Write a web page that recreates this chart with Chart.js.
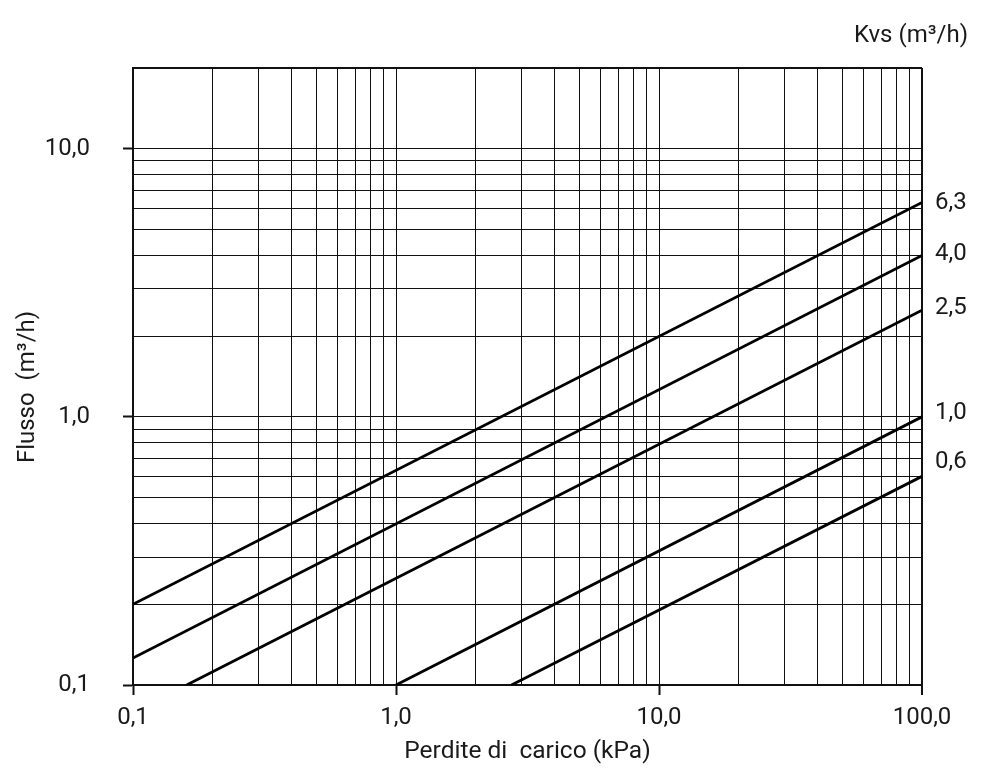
<!DOCTYPE html>
<html>
<head>
<meta charset="utf-8">
<script src="https://cdn.jsdelivr.net/npm/chart.js@4.4.1/dist/chart.umd.min.js"></script>
<style>
  html, body { margin: 0; padding: 0; background: #fff; }
  #wrap { width: 1000px; height: 777px; }
</style>
</head>
<body>
<div id="wrap"><canvas id="c" width="1000" height="777"></canvas></div>
<script>
// ---- Data ----
const kvsValues   = [6.3, 4.0, 2.5, 1.0, 0.6];
const kvsLabels   = ['6,3', '4,0', '2,5', '1,0', '0,6'];
const startDp     = [0.1, 0.1, 0.16, 1.0, 2.75];     // kPa at left end of each line
const startFlow   = [0.2, 0.126, 0.1, 0.1, 0.1];     // m³/h at left end
const endDp       = [100, 100, 100, 100, 100];       // kPa at right end
const endFlow     = [6.3, 4.0, 2.5, 1.0, 0.6];       // m³/h at right end

const xGridValues = [0.1,0.2,0.3,0.4,0.5,0.6,0.7,0.8,0.9,1,2,3,4,5,6,7,8,9,10,20,30,40,50,60,70,80,90,100];
const yGridValues = [0.1,0.2,0.3,0.4,0.5,0.6,0.7,0.8,0.9,1,2,3,4,5,6,7,8,9,10,20];
const xLabelValues = [0.1, 1, 10, 100];
const xLabelTexts  = ['0,1', '1,0', '10,0', '100,0'];
const yLabelValues = [0.1, 1, 10];
const yLabelTexts  = ['0,1', '1,0', '10,0'];

const xTitle = 'Perdite di  carico (kPa)';
const yTitle = 'Flusso  (m³/h)';
const kvsTitle = 'Kvs (m³/h)';

// ---- Helpers ----
const FONT = 'Roboto, "Liberation Sans", sans-serif';
const TEXT = '#1a1a1a';
function findIdx(arr, v) { return arr.findIndex(a => Math.abs(a - v) < 1e-9 * Math.max(1, a)); }

const datasets = kvsValues.map((k, i) => ({
  label: kvsLabels[i],
  data: [{x: startDp[i], y: startFlow[i]}, {x: endDp[i], y: endFlow[i]}],
  showLine: true,
  borderColor: '#000',
  borderWidth: 2.8,
  pointRadius: 0,
  fill: false,
  tension: 0
}));

const sideLabels = {
  id: 'sideLabels',
  afterDraw(chart, args, opts) {
    const {ctx, chartArea, scales} = chart;
    ctx.save();
    ctx.fillStyle = TEXT;
    ctx.font = '24px ' + FONT;
    ctx.textAlign = 'left';
    ctx.textBaseline = 'middle';
    kvsValues.forEach((k, i) => {
      const y = scales.y.getPixelForValue(endFlow[i]) + opts.nudge[i];
      ctx.fillText(kvsLabels[i], chartArea.right + 13, y);
    });
    ctx.textAlign = 'right';
    ctx.fillText(kvsTitle, 968, 36);
    // y axis title
    ctx.save();
    ctx.translate(28, 387);
    ctx.rotate(-Math.PI / 2);
    ctx.textAlign = 'center';
    ctx.textBaseline = 'middle';
    ctx.fillText(yTitle, 0, 0);
    ctx.restore();
    ctx.restore();
  }
};

new Chart(document.getElementById('c'), {
  type: 'scatter',
  data: { datasets },
  plugins: [sideLabels],
  options: {
    responsive: false,
    animation: false,
    devicePixelRatio: 1,
    layout: { padding: { top: 68, right: 78, left: 0, bottom: 0 } },
    plugins: {
      legend: { display: false },
      tooltip: { enabled: false },
      sideLabels: { nudge: [0, -1, -2, -4, -14] }
    },
    scales: {
      x: {
        type: 'logarithmic',
        min: 0.1, max: 100,
        afterBuildTicks: s => { s.ticks = xGridValues.map(v => ({value: v})); },
        afterFit: s => { s.height = 92; },
        ticks: {
          autoSkip: false, maxRotation: 0, minRotation: 0,
          padding: 9,
          color: TEXT,
          font: { family: FONT, size: 24 },
          callback: (v) => { const i = findIdx(xLabelValues, v); return i >= 0 ? xLabelTexts[i] : ''; }
        },
        grid: {
          color: '#111',
          lineWidth: c => (c.tick && Math.abs(c.tick.value - 100) < 1e-6) ? 2 : 1,
          tickLength: 10,
          tickWidth: 2,
          tickColor: c => (c.tick && findIdx(xLabelValues, c.tick.value) >= 0) ? '#111' : 'rgba(0,0,0,0)'
        },
        border: { display: true, color: '#111', width: 2 },
        title: {
          display: true, text: xTitle, color: TEXT,
          font: { family: FONT, size: 24.5 },
          padding: { top: 0, bottom: 10 }
        }
      },
      y: {
        type: 'logarithmic',
        min: 0.1, max: 20,
        afterBuildTicks: s => { s.ticks = yGridValues.map(v => ({value: v})); },
        afterFit: s => { s.width = 133; },
        ticks: {
          autoSkip: false,
          padding: 33,
          color: TEXT,
          font: { family: FONT, size: 24 },
          callback: (v) => { const i = findIdx(yLabelValues, v); return i >= 0 ? yLabelTexts[i] : ''; }
        },
        grid: {
          color: '#111',
          lineWidth: c => (c.tick && Math.abs(c.tick.value - 20) < 1e-6) ? 2 : 1,
          tickLength: 10,
          tickWidth: 2,
          tickColor: c => (c.tick && findIdx(yLabelValues, c.tick.value) >= 0) ? '#111' : 'rgba(0,0,0,0)'
        },
        border: { display: true, color: '#111', width: 2 }
      }
    }
  }
});
</script>
</body>
</html>
